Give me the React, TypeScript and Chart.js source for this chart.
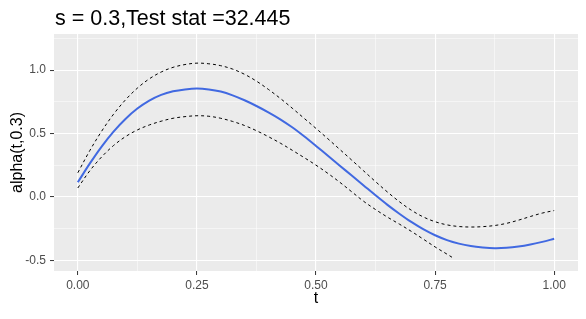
import React, { useEffect, useRef } from "react";
import { Chart, registerables } from "chart.js";

Chart.register(...registerables);

const titleText = "s = 0.3,Test stat =32.445";
const xTitle = "t";
const yTitle = "alpha(t,0.3)";

const tGrid = [
  0, 0.025, 0.05, 0.075, 0.1, 0.125, 0.15, 0.175, 0.2, 0.225, 0.25, 0.275, 0.3, 0.325, 0.35, 0.375,
  0.4, 0.425, 0.45, 0.475, 0.5, 0.525, 0.55, 0.575, 0.6, 0.625, 0.65, 0.675, 0.7, 0.725, 0.75,
  0.775, 0.8, 0.825, 0.85, 0.875, 0.9, 0.925, 0.95, 0.975, 1.0,
];
const estimate = [
  0.115, 0.262, 0.397, 0.515, 0.615, 0.697, 0.76, 0.805, 0.833, 0.848, 0.855, 0.848, 0.831, 0.801, 0.762, 0.717,
  0.667, 0.612, 0.549, 0.478, 0.402, 0.324, 0.246, 0.168, 0.09, 0.012, -0.063, -0.133, -0.198, -0.255, -0.303,
  -0.341, -0.369, -0.388, -0.399, -0.405, -0.402, -0.392, -0.376, -0.355, -0.331,
];
const upper = [
  0.19, 0.364, 0.518, 0.652, 0.765, 0.858, 0.931, 0.985, 1.022, 1.044, 1.055, 1.05, 1.035, 1.008, 0.967, 0.913,
  0.848, 0.777, 0.7, 0.62, 0.54, 0.458, 0.374, 0.29, 0.205, 0.12, 0.038, -0.038, -0.105, -0.158, -0.196,
  -0.221, -0.234, -0.238, -0.235, -0.226, -0.209, -0.184, -0.155, -0.128, -0.108,
];
const tLower = [
  0, 0.025, 0.05, 0.075, 0.1, 0.125, 0.15, 0.175, 0.2, 0.225, 0.25, 0.275, 0.3, 0.325, 0.35, 0.375,
  0.4, 0.425, 0.45, 0.475, 0.5, 0.525, 0.55, 0.575, 0.6, 0.625, 0.65, 0.675, 0.7, 0.725, 0.75,
  0.775, 0.79,
];
const lower = [
  0.07, 0.205, 0.315, 0.405, 0.475, 0.528, 0.567, 0.597, 0.62, 0.633, 0.64, 0.636, 0.62, 0.595, 0.563, 0.522,
  0.475, 0.424, 0.368, 0.31, 0.25, 0.185, 0.115, 0.04, -0.035, -0.1, -0.16, -0.215, -0.272, -0.333, -0.395,
  -0.452, -0.487,
];
const xTicks = [0, 0.125, 0.25, 0.375, 0.5, 0.625, 0.75, 0.875, 1.0];
const yTicks = [-0.5, -0.25, 0, 0.25, 0.5, 0.75, 1.0, 1.25];

const FONT = "'Liberation Sans', Arial, sans-serif";

export default function App() {
  const ref = useRef<HTMLCanvasElement | null>(null);
  useEffect(() => {
    document.body.style.margin = "0";
    const canvas = ref.current;
    if (!canvas) return;
    const isMajorX = (v: number) => Math.abs(v * 4 - Math.round(v * 4)) < 1e-6;
    const isMajorY = (v: number) => Math.abs(v * 2 - Math.round(v * 2)) < 1e-6;
    const bgPlugin = {
      id: "panelBg",
      beforeDraw(chart: any) {
        const { ctx, chartArea } = chart;
        ctx.save();
        ctx.fillStyle = "#ffffff";
        ctx.fillRect(0, 0, chart.width, chart.height);
        ctx.fillStyle = "#EBEBEB";
        ctx.fillRect(chartArea.left, chartArea.top, chartArea.right - chartArea.left, chartArea.bottom - chartArea.top);
        ctx.restore();
      },
      afterDraw(chart: any) {
        const { ctx } = chart;
        ctx.save();
        ctx.fillStyle = "#000000";
        ctx.font = `21.5px ${FONT}`;
        ctx.textBaseline = "alphabetic";
        ctx.textAlign = "left";
        ctx.fillText(titleText, 55, 24.5);
        ctx.restore();
      },
    };
    const lineBase = { pointRadius: 0, tension: 0.35, fill: false };
    const chart = new Chart(canvas, {
      type: "line",
      data: {
        datasets: [
          {
            ...lineBase,
            data: tGrid.map((t, i) => ({ x: t, y: estimate[i] })),
            borderColor: "#4169E1",
            borderWidth: 2,
          },
          {
            ...lineBase,
            data: tGrid.map((t, i) => ({ x: t, y: upper[i] })),
            borderColor: "#000000",
            borderWidth: 1,
            borderDash: [3, 3],
          },
          {
            ...lineBase,
            data: tLower.map((t, i) => ({ x: t, y: lower[i] })),
            borderColor: "#000000",
            borderWidth: 1,
            borderDash: [3, 3],
          },
        ],
      },
      options: {
        animation: false,
        responsive: false,
        maintainAspectRatio: false,
        layout: { padding: { top: 34, right: 8, bottom: 0, left: 0 } },
        plugins: { legend: { display: false }, tooltip: { enabled: false }, title: { display: false } },
        scales: {
          x: {
            type: "linear",
            min: -0.05,
            max: 1.05,
            afterBuildTicks: (scale: any) => {
              scale.ticks = xTicks.map((v) => ({ value: v }));
            },
            afterFit: (scale: any) => {
              scale.height = 48;
            },
            ticks: {
              autoSkip: false,
              maxRotation: 0,
              padding: 3,
              color: "#4D4D4D",
              font: { family: FONT, size: 12 },
              callback: (v: any) => (isMajorX(Number(v)) ? Number(v).toFixed(2) : ""),
            },
            grid: {
              color: "#FFFFFF",
              lineWidth: (c: any) => (isMajorX(c.tick.value) ? 1.1 : 0.5),
              drawTicks: true,
              tickLength: 4,
              tickWidth: 1,
              tickColor: (c: any) => (isMajorX(c.tick.value) ? "#333333" : "rgba(0,0,0,0)"),
            },
            border: { display: false },
            title: {
              display: true,
              text: xTitle,
              color: "#000000",
              font: { family: FONT, size: 16 },
              padding: { top: 0, bottom: 11 },
            },
          },
          y: {
            type: "linear",
            min: -0.585,
            max: 1.285,
            afterBuildTicks: (scale: any) => {
              scale.ticks = yTicks.map((v) => ({ value: v }));
            },
            afterFit: (scale: any) => {
              scale.width = 54;
            },
            ticks: {
              autoSkip: false,
              padding: 4,
              color: "#4D4D4D",
              font: { family: FONT, size: 12 },
              callback: (v: any) => (isMajorY(Number(v)) ? Number(v).toFixed(1) : ""),
            },
            grid: {
              color: "#FFFFFF",
              lineWidth: (c: any) => (isMajorY(c.tick.value) ? 1.1 : 0.5),
              drawTicks: true,
              tickLength: 4,
              tickWidth: 1,
              tickColor: (c: any) => (isMajorY(c.tick.value) ? "#333333" : "rgba(0,0,0,0)"),
            },
            border: { display: false },
            title: {
              display: true,
              text: yTitle,
              color: "#000000",
              font: { family: FONT, size: 16 },
              padding: { top: 8, bottom: 0 },
            },
          },
        },
      },
      plugins: [bgPlugin],
    } as any);
    return () => chart.destroy();
  }, []);
  return <canvas ref={ref} width={586} height={319} style={{ display: "block" }} />;
}
